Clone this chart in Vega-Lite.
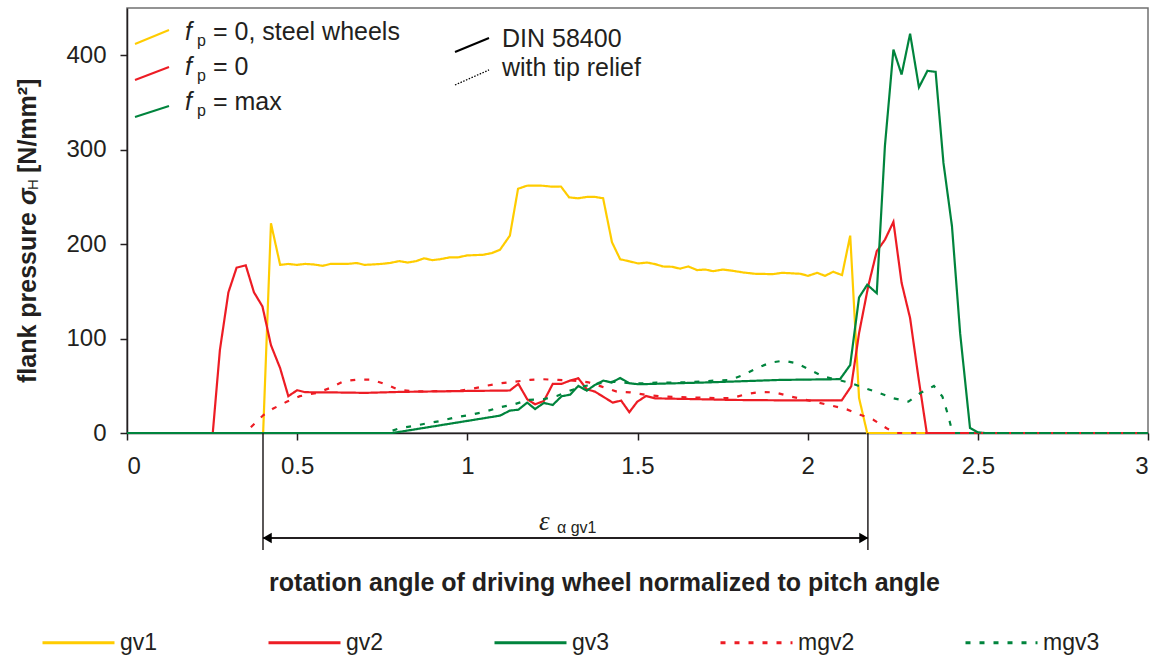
{
  "$schema": "https://vega.github.io/schema/vega-lite/v6.json",
  "autosize": {"type": "none"},
  "padding": {"left": 127, "top": 8, "right": 14, "bottom": 226},
  "width": 1021,
  "height": 425,
  "background": "white",
  "config": {
    "view": {"stroke": "#707070", "strokeWidth": 1.5},
    "font": "Liberation Sans",
    "axis": {
      "domainColor": "#231F20", "domainWidth": 1.5, "tickColor": "#231F20", "tickWidth": 1.5, "tickSize": 7,
      "labelFont": "Liberation Sans", "labelFontSize": 24, "labelColor": "#231F20",
      "titleFont": "Liberation Sans", "titleFontSize": 25, "titleFontWeight": "bold", "titleColor": "#231F20",
      "grid": false
    },
    "legend": {
      "orient": "none", "legendX": -86, "legendY": 597, "direction": "horizontal", "columns": 5,
      "columnPadding": 104, "padding": 0, "symbolType": "stroke", "symbolSize": 5184, "symbolStrokeWidth": 3,
      "labelFont": "Liberation Sans", "labelFontSize": 23, "labelColor": "#231F20", "labelOffset": 4, "title": null
    }
  },
  "datasets": {
    "curves": [
      {"series": "gv1", "x": 0, "y": 0}, {"series": "gv1", "x": 0.40, "y": 0}, {"series": "gv1", "x": 0.423, "y": 222}, {"series": "gv1", "x": 0.450, "y": 178}, {"series": "gv1", "x": 0.474, "y": 179}, {"series": "gv1", "x": 0.499, "y": 178}, {"series": "gv1", "x": 0.523, "y": 179}, {"series": "gv1", "x": 0.548, "y": 178.5}, {"series": "gv1", "x": 0.575, "y": 177}, {"series": "gv1", "x": 0.598, "y": 179}, {"series": "gv1", "x": 0.648, "y": 179}, {"series": "gv1", "x": 0.675, "y": 180}, {"series": "gv1", "x": 0.698, "y": 178}, {"series": "gv1", "x": 0.747, "y": 179}, {"series": "gv1", "x": 0.772, "y": 180}, {"series": "gv1", "x": 0.800, "y": 182}, {"series": "gv1", "x": 0.825, "y": 180.5}, {"series": "gv1", "x": 0.850, "y": 182}, {"series": "gv1", "x": 0.873, "y": 185}, {"series": "gv1", "x": 0.897, "y": 183}, {"series": "gv1", "x": 0.920, "y": 184}, {"series": "gv1", "x": 0.949, "y": 186}, {"series": "gv1", "x": 0.973, "y": 186}, {"series": "gv1", "x": 0.999, "y": 188}, {"series": "gv1", "x": 1.046, "y": 188.7}, {"series": "gv1", "x": 1.072, "y": 190.5}, {"series": "gv1", "x": 1.096, "y": 194}, {"series": "gv1", "x": 1.125, "y": 209}, {"series": "gv1", "x": 1.149, "y": 258.6}, {"series": "gv1", "x": 1.175, "y": 261.8}, {"series": "gv1", "x": 1.199, "y": 262}, {"series": "gv1", "x": 1.222, "y": 261.8}, {"series": "gv1", "x": 1.249, "y": 260.8}, {"series": "gv1", "x": 1.275, "y": 261}, {"series": "gv1", "x": 1.299, "y": 249.5}, {"series": "gv1", "x": 1.325, "y": 248.5}, {"series": "gv1", "x": 1.352, "y": 250}, {"series": "gv1", "x": 1.375, "y": 250}, {"series": "gv1", "x": 1.399, "y": 248.5}, {"series": "gv1", "x": 1.425, "y": 202}, {"series": "gv1", "x": 1.449, "y": 184}, {"series": "gv1", "x": 1.478, "y": 181.6}, {"series": "gv1", "x": 1.502, "y": 179.5}, {"series": "gv1", "x": 1.528, "y": 180.5}, {"series": "gv1", "x": 1.552, "y": 178.8}, {"series": "gv1", "x": 1.575, "y": 176.3}, {"series": "gv1", "x": 1.602, "y": 176}, {"series": "gv1", "x": 1.625, "y": 174}, {"series": "gv1", "x": 1.649, "y": 176.3}, {"series": "gv1", "x": 1.675, "y": 172.5}, {"series": "gv1", "x": 1.699, "y": 173.1}, {"series": "gv1", "x": 1.722, "y": 171.3}, {"series": "gv1", "x": 1.751, "y": 173.1}, {"series": "gv1", "x": 1.781, "y": 171.7}, {"series": "gv1", "x": 1.810, "y": 170}, {"series": "gv1", "x": 1.845, "y": 168.6}, {"series": "gv1", "x": 1.898, "y": 168.2}, {"series": "gv1", "x": 1.925, "y": 169.6}, {"series": "gv1", "x": 1.978, "y": 168.6}, {"series": "gv1", "x": 2.001, "y": 166.4}, {"series": "gv1", "x": 2.028, "y": 169.6}, {"series": "gv1", "x": 2.051, "y": 166.4}, {"series": "gv1", "x": 2.075, "y": 170.7}, {"series": "gv1", "x": 2.101, "y": 167.2}, {"series": "gv1", "x": 2.125, "y": 209}, {"series": "gv1", "x": 2.151, "y": 37}, {"series": "gv1", "x": 2.175, "y": 0}, {"series": "gv1", "x": 3, "y": 0},

      {"series": "gv2", "x": 0, "y": 0}, {"series": "gv2", "x": 0.252, "y": 0}, {"series": "gv2", "x": 0.273, "y": 88}, {"series": "gv2", "x": 0.298, "y": 149}, {"series": "gv2", "x": 0.322, "y": 175}, {"series": "gv2", "x": 0.349, "y": 177.5}, {"series": "gv2", "x": 0.373, "y": 149}, {"series": "gv2", "x": 0.398, "y": 134}, {"series": "gv2", "x": 0.423, "y": 93}, {"series": "gv2", "x": 0.450, "y": 68.6}, {"series": "gv2", "x": 0.474, "y": 39}, {"series": "gv2", "x": 0.500, "y": 45.3}, {"series": "gv2", "x": 0.523, "y": 43.2}, {"series": "gv2", "x": 0.600, "y": 43}, {"series": "gv2", "x": 0.700, "y": 42.5}, {"series": "gv2", "x": 0.802, "y": 43.5}, {"series": "gv2", "x": 0.900, "y": 44}, {"series": "gv2", "x": 1.000, "y": 44.5}, {"series": "gv2", "x": 1.125, "y": 45}, {"series": "gv2", "x": 1.150, "y": 52}, {"series": "gv2", "x": 1.176, "y": 35.7}, {"series": "gv2", "x": 1.199, "y": 30.4}, {"series": "gv2", "x": 1.225, "y": 33.9}, {"series": "gv2", "x": 1.251, "y": 52}, {"series": "gv2", "x": 1.277, "y": 52}, {"series": "gv2", "x": 1.302, "y": 55.5}, {"series": "gv2", "x": 1.326, "y": 58}, {"series": "gv2", "x": 1.351, "y": 46.3}, {"series": "gv2", "x": 1.375, "y": 43.8}, {"series": "gv2", "x": 1.402, "y": 37.8}, {"series": "gv2", "x": 1.427, "y": 32.2}, {"series": "gv2", "x": 1.452, "y": 34.3}, {"series": "gv2", "x": 1.476, "y": 22}, {"series": "gv2", "x": 1.499, "y": 33}, {"series": "gv2", "x": 1.525, "y": 39.2}, {"series": "gv2", "x": 1.552, "y": 36.7}, {"series": "gv2", "x": 1.650, "y": 36}, {"series": "gv2", "x": 1.781, "y": 35}, {"series": "gv2", "x": 1.950, "y": 34.5}, {"series": "gv2", "x": 2.100, "y": 34.5}, {"series": "gv2", "x": 2.128, "y": 49.5}, {"series": "gv2", "x": 2.151, "y": 105.7}, {"series": "gv2", "x": 2.178, "y": 155.5}, {"series": "gv2", "x": 2.203, "y": 192.5}, {"series": "gv2", "x": 2.227, "y": 204.6}, {"series": "gv2", "x": 2.252, "y": 223.6}, {"series": "gv2", "x": 2.276, "y": 159}, {"series": "gv2", "x": 2.301, "y": 121.6}, {"series": "gv2", "x": 2.325, "y": 60}, {"series": "gv2", "x": 2.350, "y": 0}, {"series": "gv2", "x": 3, "y": 0},

      {"series": "gv3", "x": 0, "y": 0}, {"series": "gv3", "x": 0.780, "y": 0}, {"series": "gv3", "x": 1.096, "y": 18.4}, {"series": "gv3", "x": 1.125, "y": 23.7}, {"series": "gv3", "x": 1.150, "y": 24.7}, {"series": "gv3", "x": 1.176, "y": 32.2}, {"series": "gv3", "x": 1.199, "y": 25.4}, {"series": "gv3", "x": 1.225, "y": 31.8}, {"series": "gv3", "x": 1.251, "y": 29.7}, {"series": "gv3", "x": 1.277, "y": 38.9}, {"series": "gv3", "x": 1.302, "y": 40.6}, {"series": "gv3", "x": 1.326, "y": 49.8}, {"series": "gv3", "x": 1.351, "y": 44.9}, {"series": "gv3", "x": 1.375, "y": 50.9}, {"series": "gv3", "x": 1.400, "y": 55.5}, {"series": "gv3", "x": 1.424, "y": 53.4}, {"series": "gv3", "x": 1.449, "y": 58.3}, {"series": "gv3", "x": 1.476, "y": 52.7}, {"series": "gv3", "x": 1.502, "y": 51.6}, {"series": "gv3", "x": 1.700, "y": 53.5}, {"series": "gv3", "x": 1.919, "y": 56.2}, {"series": "gv3", "x": 2.095, "y": 57}, {"series": "gv3", "x": 2.125, "y": 72}, {"series": "gv3", "x": 2.151, "y": 143.5}, {"series": "gv3", "x": 2.175, "y": 157}, {"series": "gv3", "x": 2.203, "y": 148}, {"series": "gv3", "x": 2.227, "y": 304}, {"series": "gv3", "x": 2.252, "y": 406}, {"series": "gv3", "x": 2.276, "y": 379.5}, {"series": "gv3", "x": 2.301, "y": 422.8}, {"series": "gv3", "x": 2.327, "y": 366}, {"series": "gv3", "x": 2.352, "y": 383.5}, {"series": "gv3", "x": 2.376, "y": 382.4}, {"series": "gv3", "x": 2.399, "y": 286}, {"series": "gv3", "x": 2.424, "y": 219}, {"series": "gv3", "x": 2.448, "y": 105.7}, {"series": "gv3", "x": 2.477, "y": 5.3}, {"series": "gv3", "x": 2.500, "y": 0.7}, {"series": "gv3", "x": 2.520, "y": 0}, {"series": "gv3", "x": 3, "y": 0},

      {"series": "mgv2", "x": 0, "y": 0}, {"series": "mgv2", "x": 0.345, "y": 0}, {"series": "mgv2", "x": 0.361, "y": 5}, {"series": "mgv2", "x": 0.401, "y": 19}, {"series": "mgv2", "x": 0.430, "y": 26}, {"series": "mgv2", "x": 0.469, "y": 33}, {"series": "mgv2", "x": 0.508, "y": 39}, {"series": "mgv2", "x": 0.557, "y": 42.4}, {"series": "mgv2", "x": 0.597, "y": 47.7}, {"series": "mgv2", "x": 0.636, "y": 54.8}, {"series": "mgv2", "x": 0.675, "y": 56.5}, {"series": "mgv2", "x": 0.719, "y": 56.5}, {"series": "mgv2", "x": 0.763, "y": 51.2}, {"series": "mgv2", "x": 0.797, "y": 45.8}, {"series": "mgv2", "x": 0.850, "y": 44}, {"series": "mgv2", "x": 0.969, "y": 44.5}, {"series": "mgv2", "x": 1.008, "y": 46.3}, {"series": "mgv2", "x": 1.052, "y": 49.8}, {"series": "mgv2", "x": 1.096, "y": 52.6}, {"series": "mgv2", "x": 1.140, "y": 54.4}, {"series": "mgv2", "x": 1.184, "y": 56.2}, {"series": "mgv2", "x": 1.223, "y": 56.9}, {"series": "mgv2", "x": 1.267, "y": 56.2}, {"series": "mgv2", "x": 1.311, "y": 55.5}, {"series": "mgv2", "x": 1.356, "y": 53.7}, {"series": "mgv2", "x": 1.395, "y": 49.1}, {"series": "mgv2", "x": 1.439, "y": 43.8}, {"series": "mgv2", "x": 1.478, "y": 43.1}, {"series": "mgv2", "x": 1.522, "y": 40.6}, {"series": "mgv2", "x": 1.566, "y": 38.9}, {"series": "mgv2", "x": 1.605, "y": 38.2}, {"series": "mgv2", "x": 1.733, "y": 37}, {"series": "mgv2", "x": 1.777, "y": 37}, {"series": "mgv2", "x": 1.821, "y": 41.3}, {"series": "mgv2", "x": 1.860, "y": 43.4}, {"series": "mgv2", "x": 1.904, "y": 43}, {"series": "mgv2", "x": 1.943, "y": 39.2}, {"series": "mgv2", "x": 1.987, "y": 35.7}, {"series": "mgv2", "x": 2.031, "y": 32.2}, {"series": "mgv2", "x": 2.075, "y": 28.6}, {"series": "mgv2", "x": 2.115, "y": 25}, {"series": "mgv2", "x": 2.154, "y": 19.4}, {"series": "mgv2", "x": 2.193, "y": 14}, {"series": "mgv2", "x": 2.232, "y": 5}, {"series": "mgv2", "x": 2.260, "y": 0}, {"series": "mgv2", "x": 3, "y": 0},

      {"series": "mgv3", "x": 0, "y": 0}, {"series": "mgv3", "x": 0.760, "y": 0}, {"series": "mgv3", "x": 0.802, "y": 5.2}, {"series": "mgv3", "x": 0.841, "y": 7.4}, {"series": "mgv3", "x": 0.881, "y": 10.2}, {"series": "mgv3", "x": 0.925, "y": 13}, {"series": "mgv3", "x": 0.964, "y": 16.6}, {"series": "mgv3", "x": 1.008, "y": 19.1}, {"series": "mgv3", "x": 1.052, "y": 22.6}, {"series": "mgv3", "x": 1.096, "y": 27.2}, {"series": "mgv3", "x": 1.140, "y": 30.7}, {"series": "mgv3", "x": 1.179, "y": 35}, {"series": "mgv3", "x": 1.223, "y": 35.7}, {"series": "mgv3", "x": 1.263, "y": 39.2}, {"series": "mgv3", "x": 1.307, "y": 45.6}, {"series": "mgv3", "x": 1.346, "y": 49.8}, {"series": "mgv3", "x": 1.390, "y": 52.7}, {"series": "mgv3", "x": 1.429, "y": 54.4}, {"series": "mgv3", "x": 1.478, "y": 52.7}, {"series": "mgv3", "x": 1.517, "y": 52.7}, {"series": "mgv3", "x": 1.556, "y": 53.4}, {"series": "mgv3", "x": 1.600, "y": 53.4}, {"series": "mgv3", "x": 1.645, "y": 53.7}, {"series": "mgv3", "x": 1.684, "y": 54.4}, {"series": "mgv3", "x": 1.728, "y": 55.5}, {"series": "mgv3", "x": 1.772, "y": 56.2}, {"series": "mgv3", "x": 1.811, "y": 61.5}, {"series": "mgv3", "x": 1.850, "y": 68.6}, {"series": "mgv3", "x": 1.890, "y": 74.5}, {"series": "mgv3", "x": 1.929, "y": 76.6}, {"series": "mgv3", "x": 1.968, "y": 73.8}, {"series": "mgv3", "x": 2.007, "y": 66.8}, {"series": "mgv3", "x": 2.046, "y": 59.7}, {"series": "mgv3", "x": 2.090, "y": 56.2}, {"series": "mgv3", "x": 2.129, "y": 52.7}, {"series": "mgv3", "x": 2.169, "y": 47.4}, {"series": "mgv3", "x": 2.213, "y": 42.1}, {"series": "mgv3", "x": 2.252, "y": 36.8}, {"series": "mgv3", "x": 2.296, "y": 33.2}, {"series": "mgv3", "x": 2.330, "y": 42.1}, {"series": "mgv3", "x": 2.371, "y": 49.8}, {"series": "mgv3", "x": 2.396, "y": 38.5}, {"series": "mgv3", "x": 2.411, "y": 20.8}, {"series": "mgv3", "x": 2.421, "y": 7}, {"series": "mgv3", "x": 2.430, "y": 0}, {"series": "mgv3", "x": 3, "y": 0}
    ],
    "keyYellow": [{"x": 0.0235, "y": 411.9, "x2": 0.1234, "y2": 426.7}],
    "keyRed": [{"x": 0.0235, "y": 373.8, "x2": 0.1234, "y2": 387.5}],
    "keyGreen": [{"x": 0.0235, "y": 334.6, "x2": 0.1234, "y2": 346.2}],
    "keySolid": [{"x": 0.9638, "y": 403.4, "x2": 1.0637, "y2": 418.2}],
    "keyDotted": [{"x": 0.9638, "y": 368.5, "x2": 1.0637, "y2": 384.4}],
    "fItalic": [{"x": 0.1704, "y": 416.1, "text": "f"}, {"x": 0.1704, "y": 379.1, "text": "f"}, {"x": 0.1704, "y": 342.0, "text": "f"}],
    "pSub": [{"x": 0.2057, "y": 409.8, "text": "p"}, {"x": 0.2057, "y": 372.7, "text": "p"}, {"x": 0.2057, "y": 335.7, "text": "p"}],
    "keyText": [
      {"x": 0.2527, "y": 416.1, "text": "= 0, steel wheels"},
      {"x": 0.2527, "y": 379.1, "text": "= 0"},
      {"x": 0.2527, "y": 342.0, "text": "= max"},
      {"x": 1.1019, "y": 408.7, "text": "DIN 58400"},
      {"x": 1.1019, "y": 378.0, "text": "with tip relief"}
    ],
    "bounds": [{"x": 0.3996, "y": 0, "y2": -123.9}, {"x": 2.177, "y": 0, "y2": -123.9}],
    "arrow": [{"x": 0.3996, "x2": 2.177, "y": -111.2}],
    "headLeft": [{"x": 0.412, "y": -111.2}],
    "headRight": [{"x": 2.165, "y": -111.2}],
    "eps": [{"x": 1.2106, "y": -102.7, "text": "ε"}],
    "epsSub": [{"x": 1.2635, "y": -105.9, "text": "α gv1"}],
    "yTitleMain": [{"x": -0.2909, "y": 52.9, "text": "flank pressure"}, {"x": -0.2909, "y": 275.3, "text": "[N/mm²]"}],
    "yTitleSigma": [{"x": -0.2909, "y": 241.4, "text": "σ"}],
    "yTitleH": [{"x": -0.2762, "y": 257.3, "text": "H"}]
  },
  "layer": [
    {
      "data": {"name": "curves"},
      "mark": {"type": "line", "strokeWidth": 2.2, "clip": false},
      "encoding": {
        "x": {"field": "x", "type": "quantitative", "scale": {"domain": [0, 3], "nice": false, "zero": false},
          "axis": {"values": [0, 0.5, 1, 1.5, 2, 2.5, 3], "format": "~g", "labelPadding": 14,
            "title": "rotation angle of driving wheel normalized to pitch angle", "titleX": 477, "titleY": 149, "titleBaseline": "middle"}},
        "y": {"field": "y", "type": "quantitative", "scale": {"domain": [0, 450], "nice": false},
          "axis": {"values": [0, 100, 200, 300, 400], "labelPadding": 14, "title": null}},
        "color": {"field": "series", "type": "nominal",
          "scale": {"domain": ["gv1", "gv2", "gv3", "mgv2", "mgv3"], "range": ["#FFCC00", "#ED1C24", "#00843D", "#ED1C24", "#00843D"]}},
        "strokeDash": {"field": "series", "type": "nominal",
          "scale": {"domain": ["gv1", "gv2", "gv3", "mgv2", "mgv3"], "range": [[1, 0], [1, 0], [1, 0], [5, 9], [5, 9]]}}
      }
    },
    {"data": {"name": "keyYellow"}, "mark": {"type": "rule", "color": "#FFCC00", "strokeWidth": 2},
      "encoding": {"x": {"field": "x", "type": "quantitative"}, "y": {"field": "y", "type": "quantitative"}, "x2": {"field": "x2"}, "y2": {"field": "y2"}}},
    {"data": {"name": "keyRed"}, "mark": {"type": "rule", "color": "#ED1C24", "strokeWidth": 2},
      "encoding": {"x": {"field": "x", "type": "quantitative"}, "y": {"field": "y", "type": "quantitative"}, "x2": {"field": "x2"}, "y2": {"field": "y2"}}},
    {"data": {"name": "keyGreen"}, "mark": {"type": "rule", "color": "#00843D", "strokeWidth": 2},
      "encoding": {"x": {"field": "x", "type": "quantitative"}, "y": {"field": "y", "type": "quantitative"}, "x2": {"field": "x2"}, "y2": {"field": "y2"}}},
    {"data": {"name": "keySolid"}, "mark": {"type": "rule", "color": "#000000", "strokeWidth": 2},
      "encoding": {"x": {"field": "x", "type": "quantitative"}, "y": {"field": "y", "type": "quantitative"}, "x2": {"field": "x2"}, "y2": {"field": "y2"}}},
    {"data": {"name": "keyDotted"}, "mark": {"type": "rule", "color": "#000000", "strokeWidth": 1.3, "strokeDash": [1.5, 1.5]},
      "encoding": {"x": {"field": "x", "type": "quantitative"}, "y": {"field": "y", "type": "quantitative"}, "x2": {"field": "x2"}, "y2": {"field": "y2"}}},
    {"data": {"name": "fItalic"}, "mark": {"type": "text", "font": "Liberation Sans", "fontStyle": "italic", "fontSize": 25, "align": "left", "baseline": "alphabetic", "color": "#231F20"},
      "encoding": {"x": {"field": "x", "type": "quantitative"}, "y": {"field": "y", "type": "quantitative"}, "text": {"field": "text"}}},
    {"data": {"name": "pSub"}, "mark": {"type": "text", "font": "Liberation Sans", "fontSize": 16, "align": "left", "baseline": "alphabetic", "color": "#231F20"},
      "encoding": {"x": {"field": "x", "type": "quantitative"}, "y": {"field": "y", "type": "quantitative"}, "text": {"field": "text"}}},
    {"data": {"name": "keyText"}, "mark": {"type": "text", "font": "Liberation Sans", "fontSize": 25, "align": "left", "baseline": "alphabetic", "color": "#231F20"},
      "encoding": {"x": {"field": "x", "type": "quantitative"}, "y": {"field": "y", "type": "quantitative"}, "text": {"field": "text"}}},
    {"data": {"name": "bounds"}, "mark": {"type": "rule", "color": "#231F20", "strokeWidth": 1.5},
      "encoding": {"x": {"field": "x", "type": "quantitative"}, "y": {"field": "y", "type": "quantitative"}, "y2": {"field": "y2"}}},
    {"data": {"name": "arrow"}, "mark": {"type": "rule", "color": "#231F20", "strokeWidth": 2},
      "encoding": {"x": {"field": "x", "type": "quantitative"}, "y": {"field": "y", "type": "quantitative"}, "x2": {"field": "x2"}}},
    {"data": {"name": "headLeft"}, "mark": {"type": "point", "shape": "triangle-left", "filled": true, "size": 110, "color": "#000000", "opacity": 1},
      "encoding": {"x": {"field": "x", "type": "quantitative"}, "y": {"field": "y", "type": "quantitative"}}},
    {"data": {"name": "headRight"}, "mark": {"type": "point", "shape": "triangle-right", "filled": true, "size": 110, "color": "#000000", "opacity": 1},
      "encoding": {"x": {"field": "x", "type": "quantitative"}, "y": {"field": "y", "type": "quantitative"}}},
    {"data": {"name": "eps"}, "mark": {"type": "text", "font": "Liberation Serif", "fontStyle": "italic", "fontSize": 27, "align": "left", "baseline": "alphabetic", "color": "#231F20"},
      "encoding": {"x": {"field": "x", "type": "quantitative"}, "y": {"field": "y", "type": "quantitative"}, "text": {"field": "text"}}},
    {"data": {"name": "epsSub"}, "mark": {"type": "text", "font": "Liberation Sans", "fontSize": 16, "align": "left", "baseline": "alphabetic", "color": "#231F20"},
      "encoding": {"x": {"field": "x", "type": "quantitative"}, "y": {"field": "y", "type": "quantitative"}, "text": {"field": "text"}}},
    {"data": {"name": "yTitleMain"}, "mark": {"type": "text", "font": "Liberation Sans", "fontWeight": "bold", "fontSize": 25, "angle": 270, "align": "left", "baseline": "middle", "color": "#231F20"},
      "encoding": {"x": {"field": "x", "type": "quantitative"}, "y": {"field": "y", "type": "quantitative"}, "text": {"field": "text"}}},
    {"data": {"name": "yTitleSigma"}, "mark": {"type": "text", "font": "Liberation Sans", "fontWeight": "bold", "fontStyle": "italic", "fontSize": 25, "angle": 270, "align": "left", "baseline": "middle", "color": "#231F20"},
      "encoding": {"x": {"field": "x", "type": "quantitative"}, "y": {"field": "y", "type": "quantitative"}, "text": {"field": "text"}}},
    {"data": {"name": "yTitleH"}, "mark": {"type": "text", "font": "Liberation Sans", "fontSize": 15, "angle": 270, "align": "left", "baseline": "middle", "color": "#231F20"},
      "encoding": {"x": {"field": "x", "type": "quantitative"}, "y": {"field": "y", "type": "quantitative"}, "text": {"field": "text"}}}
  ]
}
